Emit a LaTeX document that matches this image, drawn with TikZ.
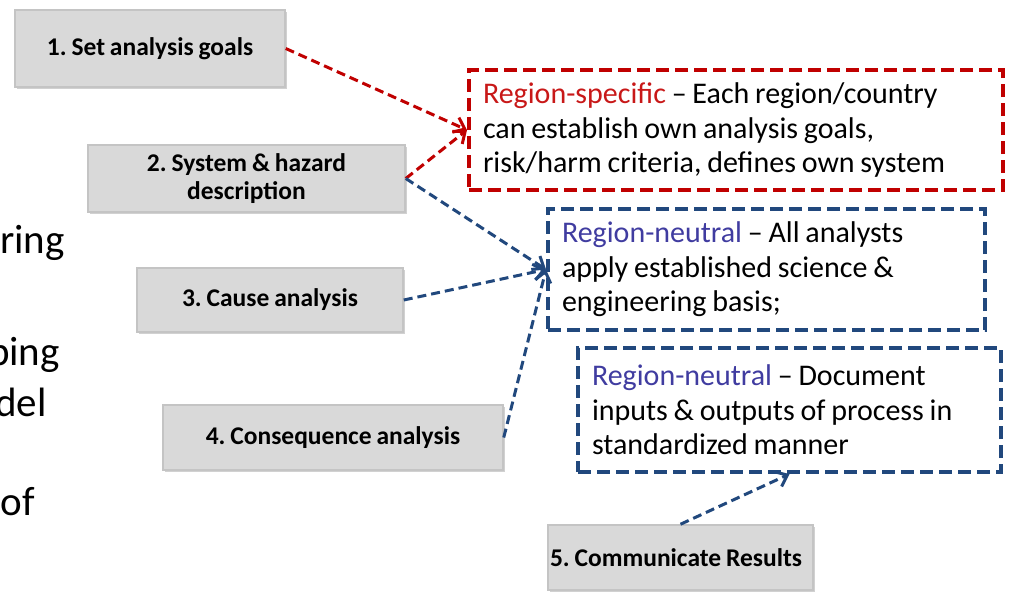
\documentclass[tikz,border=0pt]{standalone}
\usepackage{fontspec}
\setmainfont{Carlito}[WordSpace=0.85]
\usetikzlibrary{arrows.meta,shadows}

\definecolor{stepfill}{RGB}{217,217,217}
\definecolor{stepedge}{RGB}{196,196,196}
\definecolor{specred}{RGB}{192,0,0}
\definecolor{neutralblue}{RGB}{33,72,125}
\definecolor{spectext}{RGB}{200,24,24}
\definecolor{neutraltext}{RGB}{64,60,160}

\tikzset{
  stepbox/.style={draw=stepedge, line width=1.5pt, fill=stepfill,
    font=\frenchspacing\bfseries\fontsize{25.5}{28}\selectfont, align=center,
    inner sep=0pt, line join=miter,
    drop shadow={shadow xshift=1.5pt, shadow yshift=-1.5pt, opacity=0.18, fill=black}},
  notebox/.style={line width=4pt, dash pattern=on 13pt off 6pt, line join=miter,
    font=\frenchspacing\fontsize{30}{34.5}\selectfont, align=flush left,
    inner xsep=14pt, inner ysep=0pt, anchor=center},
  link/.style={line width=3pt, dash pattern=on 9pt off 5pt,
    -{Straight Barb[length=10pt,width=16pt,line width=3pt]}},
  bgtext/.style={font=\fontsize{41}{50}\selectfont, anchor=base east, inner sep=0pt}
}

\begin{document}
\begin{tikzpicture}[x=1pt,y=-1pt]
  \useasboundingbox (0,0) rectangle (1009,592);
  \clip (0,0) rectangle (1009,592);

  % slide text running in from the left
  \node[bgtext] (w1) at (65,253) {ring};
  \node[bgtext] (w2) at (60,365) {ping};
  \node[bgtext] (w3) at (47,416) {del};
  \node[bgtext] (w4) at (35,515) {of};

  % process steps
  \node[stepbox, minimum width=270pt, minimum height=77pt] (s1) at (150,48.5) {1. Set analysis goals};
  \node[stepbox, minimum width=317pt, minimum height=67pt] (s2) at (246.5,178.5) {2. System \& hazard\\description};
  \node[stepbox, minimum width=266pt, minimum height=64pt] (s3) at (270,300) {3. Cause analysis};
  \node[stepbox, minimum width=340pt, minimum height=65pt] (s4) at (333,437.5) {4. Consequence analysis};
  \node[stepbox, minimum width=265pt, minimum height=65pt, text width=261pt, align=flush left, inner xsep=2pt] (s5) at (680.5,557.5) {5. Communicate Results};

  % notes
  \node[notebox, draw=specred, text width=506pt, minimum height=120pt] (rs) at (736,130)
    {\textcolor{spectext}{Region-specific} -- Each region/country\\can establish own analysis goals,\\risk/harm criteria, defines own system};
  \node[notebox, draw=neutralblue, text width=409pt, minimum height=121pt] (rn1) at (766.5,269.5)
    {\textcolor{neutraltext}{Region-neutral} -- All analysts\\apply established science \&\\engineering basis;};
  \node[notebox, draw=neutralblue, text width=395pt, minimum height=124pt] (rn2) at (789.5,410)
    {\textcolor{neutraltext}{Region-neutral} -- Document\\inputs \& outputs of process in\\standardized manner};

  % connectors
  \draw[link, specred] (s1.east) -- (rs.west);
  \draw[link, specred] (s2.east) -- (rs.west);
  \draw[link, neutralblue] (s2.east) -- (rn1.west);
  \draw[link, neutralblue] (s3.east) -- (rn1.west);
  \draw[link, neutralblue] (s4.east) -- (rn1.west);
  \draw[link, neutralblue] (s5.north) -- (rn2.south);
\end{tikzpicture}
\end{document}
